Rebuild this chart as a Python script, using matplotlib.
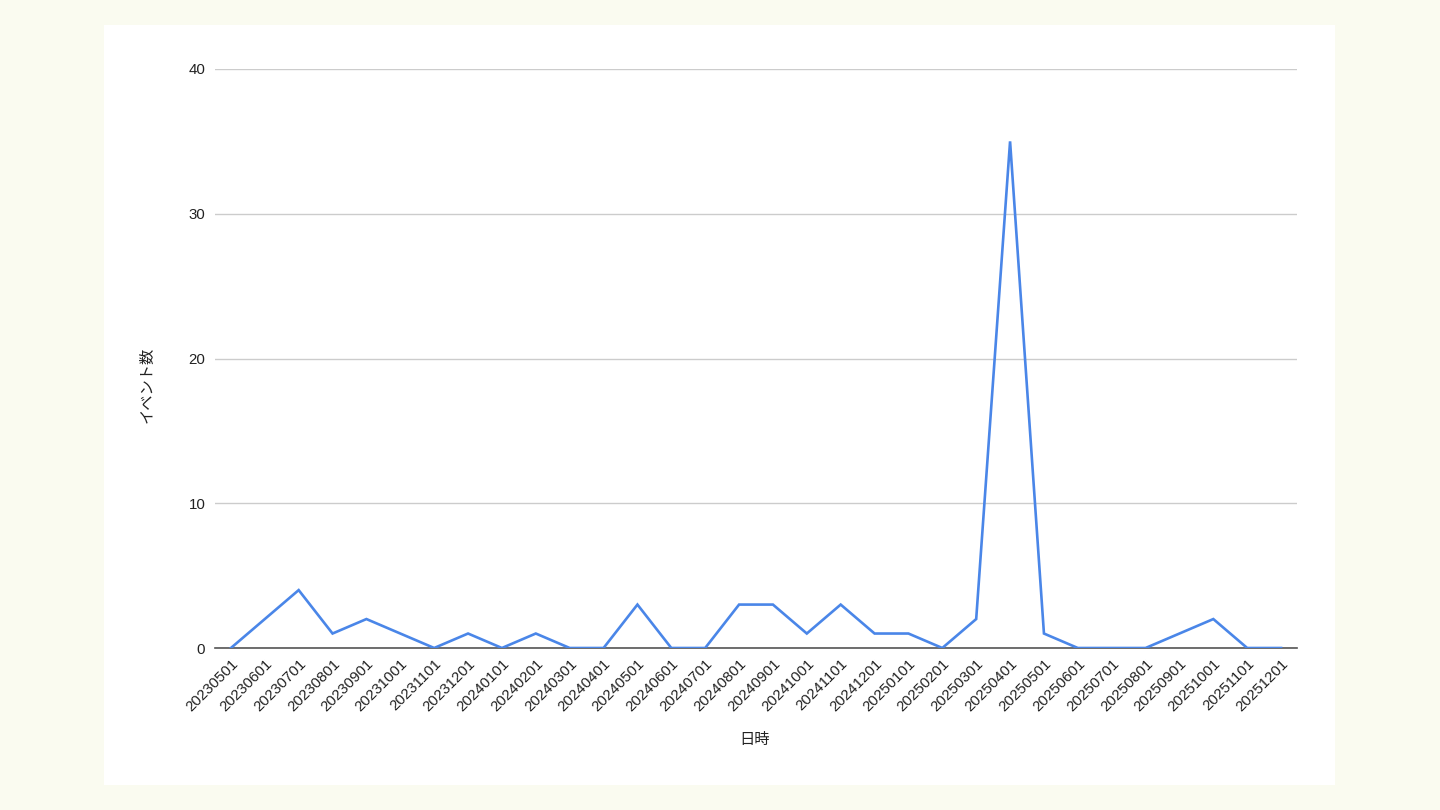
import matplotlib.pyplot as plt
from matplotlib.patches import Rectangle

plt.rcParams["font.family"] = ["Liberation Sans", "Noto Sans CJK JP", "DejaVu Sans"]

# monthly data
months = [
    "20230501", "20230601", "20230701", "20230801", "20230901", "20231001",
    "20231101", "20231201", "20240101", "20240201", "20240301", "20240401",
    "20240501", "20240601", "20240701", "20240801", "20240901", "20241001",
    "20241101", "20241201", "20250101", "20250201", "20250301", "20250401",
    "20250501", "20250601", "20250701", "20250801", "20250901", "20251001",
    "20251101", "20251201",
]
events = [
    0, 2, 4, 1, 2, 1,
    0, 1, 0, 1, 0, 0,
    3, 0, 0, 3, 3, 1,
    3, 1, 1, 0, 2, 35,
    1, 0, 0, 0, 1, 2,
    0, 0,
]
y_ticks = [0, 10, 20, 30, 40]

fig = plt.figure(figsize=(14.4, 8.1), dpi=100)
fig.patch.set_facecolor("#fafbf0")

# white card behind the chart
card = Rectangle((104 / 1440, 1 - 785 / 810), 1231 / 1440, 760 / 810,
                 transform=fig.transFigure, facecolor="white",
                 edgecolor="none", zorder=-10)
fig.add_artist(card)

ax = fig.add_axes([215 / 1440, 1 - 648 / 810, 1082 / 1440, 579 / 810])
ax.set_facecolor("none")

x = list(range(len(months)))
ax.plot(x, events, color="#4a86e8", linewidth=1.9, zorder=3, solid_joinstyle="miter")

ax.set_xlim(-0.47, len(months) - 1 + 0.47)
ax.set_ylim(0, 40)
ax.set_yticks(y_ticks)
ax.set_xticks(x)
ax.set_xticklabels(months, rotation=45, ha="right", va="top",
                   rotation_mode="anchor", fontsize=10.8, color="#222222")
ax.tick_params(axis="both", length=0, labelsize=10.8, labelcolor="#222222")
ax.tick_params(axis="x", pad=6)
ax.tick_params(axis="y", pad=7)

# grid
ax.yaxis.grid(True, color="#cccccc", linewidth=1)
ax.set_axisbelow(True)
for s in ["top", "right", "left"]:
    ax.spines[s].set_visible(False)
ax.spines["bottom"].set_color("#555555")
ax.spines["bottom"].set_linewidth(1.2)
ax.spines["bottom"].set_zorder(2)

# axis titles
fig.text(755 / 1440, 1 - 740 / 810, "日時", ha="center", va="center",
         fontsize=11, color="#222222")
fig.text(148 / 1440, 1 - 385 / 810, "イベント数", ha="center", va="center",
         rotation=90, fontsize=11, color="#222222")

fig.savefig("out.png", dpi=100, facecolor=fig.get_facecolor())
